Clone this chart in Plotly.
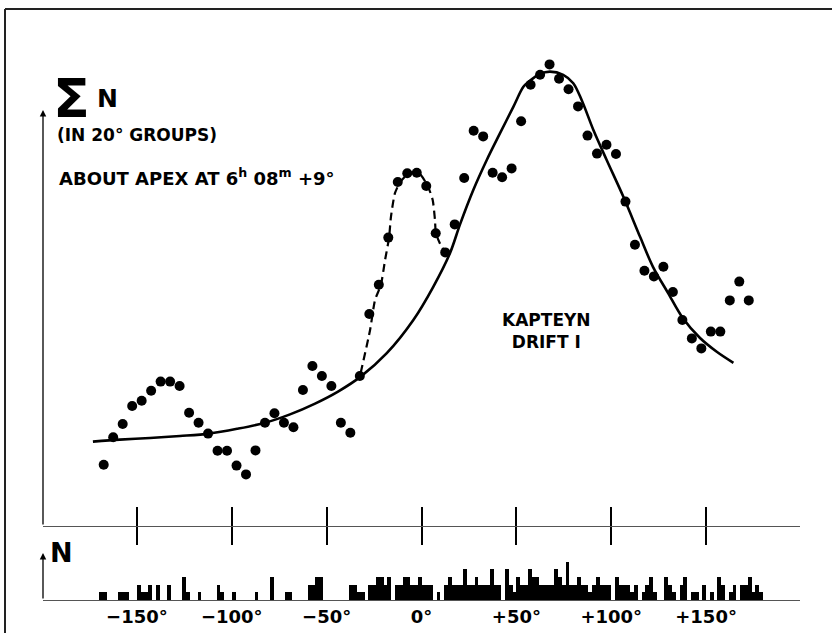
import plotly.graph_objects as go

W, H = 832, 633

# ---- data ----
# running sums of N in 20-degree groups, every 5 degrees of position angle
DOT_ANGLE = [-167.5, -162.5, -157.5, -152.5, -147.5, -142.5, -137.5, -132.5, -127.5, -122.5,
             -117.5, -112.5, -107.5, -102.5, -97.5, -92.5, -87.5, -82.5, -77.5, -72.5,
             -67.5, -62.5, -57.5, -52.5, -47.5, -42.5, -37.5, -32.5, -27.5, -22.5,
             -17.5, -12.5, -7.5, -2.5, 2.5, 7.5, 12.5, 17.5, 22.5, 27.5,
             32.5, 37.5, 42.5, 47.5, 52.5, 57.5, 62.5, 67.5, 72.5, 77.5,
             82.5, 87.5, 92.5, 97.5, 102.5, 107.5, 112.5, 117.5, 122.5, 127.5,
             132.5, 137.5, 142.5, 147.5, 152.5, 157.5, 162.5, 167.5, 172.5]
DOT_SUM_N = [15.3, 22.2, 25.5, 30.0, 31.3, 33.8, 36.1, 36.1, 35.0, 28.3,
             25.8, 23.1, 18.8, 18.8, 15.1, 12.9, 18.9, 25.8, 28.2, 25.8,
             24.7, 34.0, 40.0, 37.5, 35.0, 25.8, 23.3, 37.5, 53.0, 60.3,
             72.1, 86.0, 88.2, 88.3, 85.0, 73.2, 68.4, 75.4, 87.0, 98.8,
             97.4, 88.3, 87.2, 89.4, 101.2, 110.3, 112.8, 115.4, 111.8, 109.2,
             104.9, 97.6, 93.1, 95.3, 93.0, 81.1, 70.3, 63.8, 62.4, 64.8,
             58.5, 51.5, 46.9, 44.4, 48.6, 48.6, 56.4, 61.1, 56.4]

# smooth "Kapteyn drift I" curve
CURVE_ANGLE = [-173.2, -159.0, -143.1, -127.3, -112.0, -97.2, -82.5, -69.3, -56.1, -44.0,
               -31.9, -18.3, -4.3, 6.2, 15.0, 20.3, 27.3, 34.4, 41.4, 48.4,
               53.7, 56.6, 62.4, 67.7, 74.7, 80.0, 84.4, 90.6, 97.6, 106.4,
               115.2, 122.0, 129.9, 137.7, 146.8, 155.8, 164.4]
CURVE_SUM_N = [21.1, 21.6, 22.0, 22.5, 23.1, 24.3, 25.8, 27.9, 30.6, 33.6,
               37.4, 43.2, 51.5, 59.8, 68.2, 75.4, 84.0, 91.5, 98.2, 104.8,
               109.8, 111.1, 113.0, 113.6, 112.8, 110.7, 106.5, 99.0, 91.5, 82.3,
               72.3, 64.8, 58.3, 52.0, 47.0, 43.5, 40.8]

# dashed secondary hump
DASH_ANGLE = [-32.1, -27.1, -24.5, -21.4, -19.2, -17.1, -16.1, -14.0, -11.3, -6.7,
              -1.5, 3.3, 5.9, 7.1, 7.6, 10.6, 13.3]
DASH_SUM_N = [38.2, 49.0, 56.5, 60.3, 66.5, 72.1, 77.3, 83.2, 85.9, 88.2,
              88.3, 85.0, 81.5, 76.5, 73.2, 69.8, 68.3]

# individual counts N in 2-degree bins, from -170 to +180
BIN_CENTER = list(range(-169, 180, 2))
BIN_N = [1, 1, 0, 0, 0, 1, 1, 1, 0, 0,
         2, 1, 1, 2, 0, 2, 0, 0, 2, 0,
         0, 0, 3, 1, 0, 0, 1, 0, 0, 0,
         0, 2, 1, 0, 0, 1, 0, 0, 0, 0,
         0, 1, 0, 0, 0, 3, 0, 0, 0, 1,
         1, 0, 0, 0, 0, 2, 2, 3, 3, 0,
         0, 0, 0, 0, 0, 0, 2, 2, 1, 1,
         0, 2, 2, 3, 3, 2, 3, 0, 2, 2,
         3, 3, 2, 2, 3, 2, 2, 2, 0, 1,
         0, 2, 3, 2, 2, 2, 4, 2, 2, 3,
         2, 2, 2, 4, 2, 2, 0, 4, 2, 1,
         3, 2, 2, 4, 3, 3, 2, 2, 2, 2,
         4, 3, 2, 5, 2, 2, 3, 2, 2, 1,
         2, 3, 2, 2, 2, 0, 3, 2, 2, 2,
         1, 2, 0, 1, 2, 3, 1, 0, 0, 3,
         2, 1, 0, 2, 3, 0, 1, 1, 0, 2,
         0, 1, 0, 3, 2, 0, 1, 2, 0, 2,
         2, 3, 1, 2, 1]

TICK_VALS = [-150, -100, -50, 0, 50, 100, 150]
TICK_TEXT = ["\u2212150°", "\u2212100°", "\u221250°", "0°", "+50°", "+100°", "+150°"]

FONT = "DejaVu Sans"


def px(x):
    return x / W


def py(y):
    return (H - y) / H


XDOM = [px(43), px(800)]
XR = [-199.5, 199.5]

fig = go.Figure()

fig.add_trace(go.Scatter(x=CURVE_ANGLE, y=CURVE_SUM_N, mode="lines",
                         line=dict(color="black", width=2.6, shape="spline", smoothing=0.9),
                         xaxis="x", yaxis="y", hoverinfo="skip"))
fig.add_trace(go.Scatter(x=DASH_ANGLE, y=DASH_SUM_N, mode="lines",
                         line=dict(color="black", width=2.2, dash="8px,5px", shape="spline", smoothing=0.6),
                         xaxis="x3", yaxis="y", hoverinfo="skip"))
fig.add_trace(go.Scatter(x=DOT_ANGLE, y=DOT_SUM_N, mode="markers",
                         marker=dict(color="black", size=10),
                         xaxis="x", yaxis="y", cliponaxis=False))
fig.add_trace(go.Bar(x=BIN_CENTER, y=BIN_N, width=2, marker=dict(color="black", line=dict(width=0)),
                     xaxis="x2", yaxis="y2"))

axis_common = dict(domain=XDOM, range=XR, showgrid=False, zeroline=False)

fig.update_layout(
    width=W, height=H,
    margin=dict(l=0, r=0, t=0, b=0),
    paper_bgcolor="white", plot_bgcolor="white",
    showlegend=False,
    bargap=0,
    xaxis=dict(**axis_common, anchor="y", showline=True, linecolor="#555", linewidth=1,
               ticks="outside", ticklen=18, tickwidth=1.5, tickcolor="black",
               tickvals=TICK_VALS, showticklabels=False),
    xaxis3=dict(**axis_common, anchor="y", overlaying="x", showline=False,
                ticks="inside", ticklen=19, tickwidth=1.5, tickcolor="black",
                tickvals=TICK_VALS, showticklabels=False),
    xaxis2=dict(**axis_common, anchor="y2", showline=True, linecolor="#555", linewidth=1,
                ticks="", tickvals=TICK_VALS, ticktext=TICK_TEXT,
                tickfont=dict(family=FONT, size=18, color="black", weight="bold")),
    yaxis=dict(domain=[py(526), py(40)], range=[0, 121.5], visible=False),
    yaxis2=dict(domain=[py(600), py(550)], range=[0, 6.5], visible=False),
)

# frame
fig.add_shape(type="line", xref="paper", yref="paper", x0=px(5), x1=px(832), y0=py(9), y1=py(9),
              line=dict(color="#222", width=2))
fig.add_shape(type="line", xref="paper", yref="paper", x0=px(5), x1=px(5), y0=py(9), y1=py(633),
              line=dict(color="#222", width=2))

# vertical axis arrows
fig.add_annotation(x=px(43), y=py(110), xref="paper", yref="paper", text="", showarrow=True,
                   ax=0, ay=416, arrowhead=2, arrowsize=1, arrowwidth=1.3, arrowcolor="black", standoff=0)
fig.add_annotation(x=px(43), y=py(553), xref="paper", yref="paper", text="", showarrow=True,
                   ax=0, ay=47, arrowhead=2, arrowsize=1, arrowwidth=1.3, arrowcolor="black", standoff=0)


def label(text, x, y, size, xanchor="left"):
    fig.add_annotation(x=px(x), y=py(y), xref="paper", yref="paper", text=text, showarrow=False,
                       xanchor=xanchor, yanchor="middle",
                       font=dict(family=FONT, size=size, color="black", weight="bold"))


label("Σ", 71, 98, 54, xanchor="center")
label("N", 107.5, 98, 25, xanchor="center")
label("(IN 20° GROUPS)", 55, 135, 17)
label("ABOUT APEX AT 6<sup>h</sup> 08<sup>m</sup> +9°", 57, 177, 18)
label("KAPTEYN<br>DRIFT I", 546.5, 331, 17, xanchor="center")
label("N", 61, 552, 27, xanchor="center")

fig.write_html("out.html", config={"displayModeBar": False},
               post_script="document.body.style.margin='0px';document.body.style.overflow='hidden';")
